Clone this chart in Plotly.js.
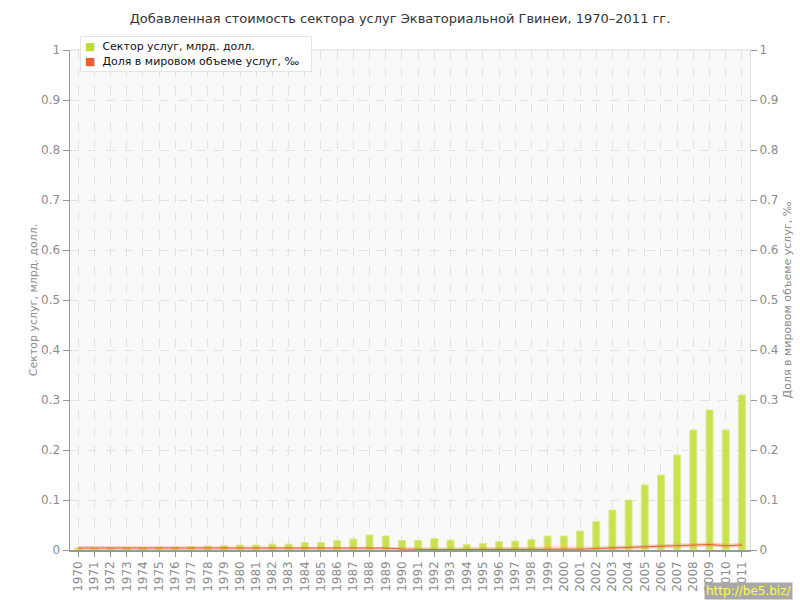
<!DOCTYPE html>
<html>
<head>
<meta charset="utf-8">
<script src="https://cdn.plot.ly/plotly-3.0.1.min.js"></script>
<style>html,body{margin:0;padding:0;background:#fff;}#chart{width:800px;height:600px;}</style>
</head>
<body>
<div id="chart"></div>
<script>
const years = ["1970","1971","1972","1973","1974","1975","1976","1977","1978","1979",
  "1980","1981","1982","1983","1984","1985","1986","1987","1988","1989",
  "1990","1991","1992","1993","1994","1995","1996","1997","1998","1999",
  "2000","2001","2002","2003","2004","2005","2006","2007","2008","2009","2010","2011"];
const servicesValue = [0.004,0.004,0.004,0.005,0.005,0.006,0.006,0.007,0.008,0.009,
  0.010,0.010,0.012,0.012,0.015,0.015,0.019,0.022,0.030,0.028,
  0.019,0.019,0.023,0.020,0.011,0.013,0.017,0.018,0.021,0.028,
  0.028,0.038,0.057,0.080,0.100,0.130,0.150,0.190,0.240,0.280,0.240,0.310];
const worldShare = [0.004,0.004,0.004,0.004,0.004,0.004,0.004,0.004,0.004,0.004,
  0.004,0.004,0.004,0.004,0.004,0.004,0.004,0.004,0.004,0.004,
  0.002,0.001,0.001,0.001,0.001,0.001,0.001,0.001,0.001,0.001,
  0.001,0.0015,0.003,0.004,0.005,0.006,0.007,0.008,0.009,0.011,0.0085,0.010];
const yTicks = [0,0.1,0.2,0.3,0.4,0.5,0.6,0.7,0.8,0.9,1];
const yTickText = ["0","0.1","0.2","0.3","0.4","0.5","0.6","0.7","0.8","0.9","1"];
const seriesNames = ["Сектор услуг, млрд. долл.", "Доля в мировом объеме услуг, ‰"];
const seriesColors = ["#bede34", "#e8602c"];

const font = "DejaVu Sans, Verdana, sans-serif";
const traces = [
  {type:"bar", x:years, y:servicesValue, name:seriesNames[0], showlegend:false,
   marker:{color:"rgba(194,224,60,0.9)", line:{color:"rgba(216,236,140,1)", width:1}},
   width:0.43},
  {type:"scatter", mode:"lines", x:years, y:worldShare, yaxis:"y2", showlegend:false,
   line:{color:"rgba(236,130,90,0.35)", width:4}, hoverinfo:"skip"},
  {type:"scatter", mode:"lines", x:years, y:worldShare, yaxis:"y2", showlegend:false,
   name:seriesNames[1], line:{color:seriesColors[1], width:1.2}}
];
const axisCommon = {
  range:[0,1], tickvals:yTicks, ticktext:yTickText, ticks:"outside", ticklen:6,
  tickcolor:"#999", tickfont:{family:font, size:12, color:"#8c8c8c"}, fixedrange:true
};
const legendText = seriesNames.map((n,i) =>
  '<span style="color:' + seriesColors[i] + '">■</span>  ' + n).join("<br>");
const layout = {
  width:800, height:600,
  margin:{l:70, r:50, t:50, b:50, pad:0},
  paper_bgcolor:"#ffffff", plot_bgcolor:"#f9f9f9",
  font:{family:font},
  title:{text:"Добавленная стоимость сектора услуг Экваториальной Гвинеи, 1970–2011 гг.",
    font:{family:font, size:13, color:"#333"}, x:0.5, xanchor:"center", y:0.97, yanchor:"middle"},
  bargap:0.5,
  xaxis:{type:"category", tickangle:-90, ticks:"outside", ticklen:5, tickcolor:"#999",
    showgrid:true, gridcolor:"#e2e2e2", griddash:"dash", gridwidth:1,
    showline:true, linecolor:"#999", linewidth:1.5, layer:"above traces",
    tickfont:{family:font, size:12, color:"#8c8c8c"}, automargin:false},
  yaxis:Object.assign({}, axisCommon, {
    showgrid:true, gridcolor:"#e2e2e2", griddash:"dash", gridwidth:1,
    showline:true, linecolor:"#999", linewidth:1.5, zeroline:false,
    title:{text:seriesNames[0], font:{family:font, size:11, color:"#8c8c8c"}, standoff:1},
    automargin:false}),
  yaxis2:Object.assign({}, axisCommon, {
    overlaying:"y", side:"right", showgrid:false, zeroline:false,
    showline:true, linecolor:"#dcdcdc", linewidth:1,
    title:{text:seriesNames[1], font:{family:font, size:11, color:"#8c8c8c"}, standoff:5},
    automargin:false}),
  showlegend:false,
  shapes:[{type:"line", xref:"paper", yref:"paper", x0:0, x1:1, y0:1, y1:1,
    line:{color:"#dcdcdc", width:1}}],
  annotations:[
    {text:legendText, xref:"paper", yref:"paper", x:0.0147, y:1.028, xanchor:"left", yanchor:"top",
     align:"left", valign:"middle", width:222, height:26, showarrow:false,
     bgcolor:"rgba(255,255,255,0.97)", bordercolor:"#e4e4e4",
     borderwidth:1, borderpad:4, font:{family:font, size:11, color:"#111"}},
    {text:"http://be5.biz/", xref:"paper", yref:"paper", x:1.0625, y:-0.1,
     xanchor:"right", yanchor:"bottom", showarrow:false, bgcolor:"#a8a8a8",
     font:{family:font, size:12, color:"#ffff33"}, borderpad:1}]
};
Plotly.newPlot("chart", traces, layout, {displayModeBar:false, staticPlot:true});
</script>
</body>
</html>
